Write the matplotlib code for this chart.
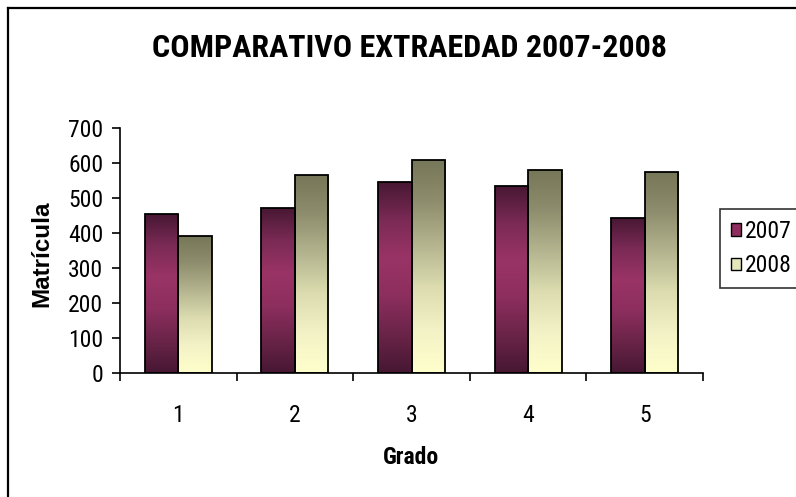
import numpy as np
import matplotlib
matplotlib.use("Agg")
import matplotlib.pyplot as plt
from matplotlib.colors import LinearSegmentedColormap
from matplotlib.patches import Patch
from matplotlib.lines import Line2D

grados = ["1", "2", "3", "4", "5"]
series_names = ["2007", "2008"]
v2007 = [454, 471, 547, 535, 444]
v2008 = [391, 567, 609, 580, 575]
yticks = [0, 100, 200, 300, 400, 500, 600, 700]

NARROW = ["Roboto Condensed", "Archivo Narrow", "Liberation Sans", "DejaVu Sans"]
REG = ["Liberation Sans", "DejaVu Sans"]

fig = plt.figure(figsize=(7.96, 4.97), dpi=100)
ax = fig.add_axes([120/796, 1-373.3/497, (703-120)/796, (373.3-128)/497])

cm07 = LinearSegmentedColormap.from_list("c07", ["#461732", "#7a2a55", "#9a3466", "#8c2e5e", "#6a2448", "#461732"])
cm08 = LinearSegmentedColormap.from_list("c08", ["#767658", "#8e8e6e", "#b4b48f", "#dcdcb0", "#f2f2c6", "#ffffcc"])

x = np.arange(len(grados))
w = 0.287
grad = np.linspace(0, 1, 256).reshape(-1, 1)
for vals, off, cmap in [(v2007, -w/2, cm07), (v2008, w/2, cm08)]:
    bars = ax.bar(x + off, vals, width=w, facecolor="none", edgecolor="black", linewidth=1.3, zorder=3)
    for b in bars:
        x0, y0 = b.get_x(), b.get_y()
        x1, y1 = x0 + b.get_width(), y0 + b.get_height()
        im = ax.imshow(grad, cmap=cmap, aspect="auto", extent=(x0, x1, y0, y1), origin="upper", zorder=2)
        im.set_clip_path(b)

ax.set_xlim(-0.5, len(grados) - 0.5)
ax.set_ylim(0, 700)
ax.set_yticks(yticks)
ax.set_yticklabels([str(t) for t in yticks], family=NARROW, fontsize=17)
ax.set_xticks(x)
ax.set_xticklabels(grados, family=NARROW, fontsize=17)
ax.set_xticks(np.arange(-0.5, len(grados)), minor=True)
ax.tick_params(axis="x", which="major", length=0, pad=22)
ax.tick_params(axis="x", which="minor", length=6, width=1.2, direction="out")
ax.tick_params(axis="y", length=6, width=1.2, direction="out", pad=6)
for s in ["top", "right"]:
    ax.spines[s].set_visible(False)
for s in ["left", "bottom"]:
    ax.spines[s].set_linewidth(1.2)

fig.text(42/796, 1-254/497, "Matrícula", rotation=90, ha="center", va="center",
         family=REG, fontweight="bold", fontsize=17.5)
fig.text(411/796, 1-457/497, "Grado", ha="center", va="center",
         family=NARROW, fontweight="bold", fontsize=17)
fig.text(409/796, 1-48/497, "COMPARATIVO EXTRAEDAD 2007-2008", ha="center", va="center",
         family=NARROW, fontweight="bold", fontsize=23)

handles = [Patch(facecolor="#8f2e5e", edgecolor="black", linewidth=1),
           Patch(facecolor="#e6e6bc", edgecolor="black", linewidth=1)]
leg = fig.legend(handles, series_names, loc="upper left", bbox_to_anchor=(720/796, 1-209/497),
                 prop={"family": NARROW, "size": 17}, frameon=True, fancybox=False,
                 edgecolor="black", handlelength=0.45, handleheight=0.45, handletextpad=0.15,
                 borderpad=0.45, labelspacing=0.5, borderaxespad=0)
leg.get_frame().set_linewidth(1.2)

fig.add_artist(Line2D([8/796, 8/796], [0, 1-8/497], transform=fig.transFigure, color="black", linewidth=1.6))
fig.add_artist(Line2D([8/796, 1], [1-8/497, 1-8/497], transform=fig.transFigure, color="black", linewidth=1.6))

fig.savefig("out.png", dpi=100)
